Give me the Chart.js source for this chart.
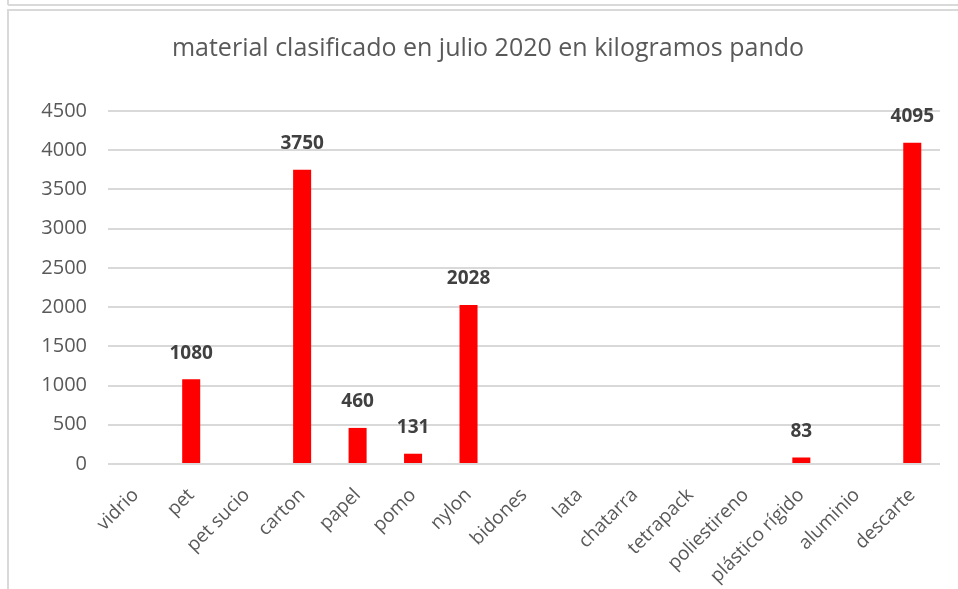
<!DOCTYPE html>
<html>
<head>
<meta charset="utf-8">
<script src="https://cdn.jsdelivr.net/npm/chart.js@4"></script>
<style>
  html, body { margin: 0; padding: 0; background: #fff; }
  body { width: 958px; height: 589px; position: relative; overflow: hidden; }
  .ln { position: absolute; background: #d9d9d9; }
  canvas { position: absolute; left: 0; top: 0; }
</style>
</head>
<body>
<div class="ln" style="left:8px;top:4px;width:950px;height:2px"></div>
<div class="ln" style="left:7px;top:0;width:2px;height:5px"></div>
<div class="ln" style="left:7px;top:9px;width:951px;height:2px"></div>
<div class="ln" style="left:7px;top:9px;width:2px;height:580px"></div>
<canvas id="c" width="958" height="589"></canvas>
<script>
const titleText = 'material clasificado en julio 2020 en kilogramos pando';
const categories = ['vidrio','pet','pet sucio','carton','papel','pomo','nylon','bidones','lata','chatarra','tetrapack','poliestireno','plástico rígido','aluminio','descarte'];
const values = [0, 1080, 0, 3750, 460, 131, 2028, 0, 0, 0, 0, 0, 83, 0, 4095];
const yTicks = [0, 500, 1000, 1500, 2000, 2500, 3000, 3500, 4000, 4500];

const labelPlugin = {
  id: 'valueLabels',
  afterDatasetsDraw(chart) {
    const ctx = chart.ctx;
    const meta = chart.getDatasetMeta(0);
    ctx.save();
    ctx.font = 'bold 19px "Open Sans"';
    ctx.fillStyle = '#404040';
    ctx.textAlign = 'center';
    ctx.textBaseline = 'middle';
    meta.data.forEach((bar, i) => {
      const v = values[i];
      if (!v) return;
      ctx.fillText(String(v), bar.x, bar.y - 26);
    });
    ctx.restore();
  }
};

new Chart(document.getElementById('c'), {
  type: 'bar',
  data: {
    labels: categories,
    datasets: [{
      data: values,
      backgroundColor: '#ff0000',
      borderWidth: 0,
      categoryPercentage: 1,
      barPercentage: 0.325
    }]
  },
  options: {
    responsive: false,
    devicePixelRatio: 1,
    animation: false,
    layout: { padding: { left: 36, right: 18, top: 12, bottom: 0 } },
    plugins: {
      legend: { display: false },
      tooltip: { enabled: false },
      title: {
        display: true,
        text: titleText,
        color: '#595959',
        font: { family: 'Open Sans', size: 25, weight: 'normal', lineHeight: 1.2 },
        padding: { top: 22, bottom: 47 }
      }
    },
    scales: {
      x: {
        grid: { display: false },
        border: { display: false },
        ticks: {
          color: '#595959',
          font: { family: 'Open Sans', size: 19 },
          maxRotation: 45,
          minRotation: 45,
          autoSkip: false,
          padding: 12
        },
        afterFit(scale) { scale.height = 125; }
      },
      y: {
        min: 0,
        max: 4500,
        afterBuildTicks(scale) { scale.ticks = yTicks.map(v => ({ value: v })); },
        grid: { color: '#d9d9d9', lineWidth: 2, drawTicks: false },
        border: { display: false },
        ticks: {
          color: '#595959',
          font: { family: 'Open Sans', size: 20 },
          padding: 21,
          callback: (v) => String(v)
        },
        afterFit(scale) { scale.width = 72; }
      }
    }
  },
  plugins: [labelPlugin]
});
</script>
</body>
</html>
